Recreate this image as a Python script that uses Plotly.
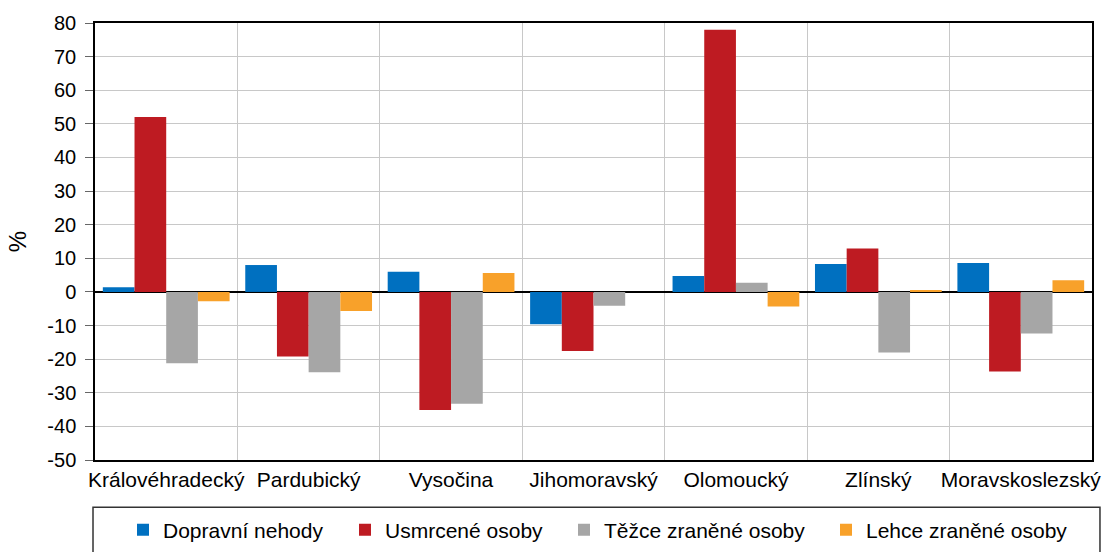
import plotly.graph_objects as go

categories = ["Královéhradecký", "Pardubický", "Vysočina", "Jihomoravský",
              "Olomoucký", "Zlínský", "Moravskoslezský"]
series_names = ["Dopravní nehody", "Usmrcené osoby", "Těžce zraněné osoby", "Lehce zraněné osoby"]
dopravni = [1.4, 8.0, 6.0, -9.6, 4.7, 8.3, 8.6]
usmrcene = [52.0, -19.2, -35.1, -17.6, 78.0, 12.9, -23.7]
tezce = [-21.2, -23.9, -33.3, -4.1, 2.7, -18.0, -12.4]
lehce = [-2.8, -5.7, 5.6, 0.0, -4.3, 0.3, 3.5]
colors = ["#0070C0", "#BE1B22", "#A6A6A6", "#F8A12A"]
y_ticks = list(range(-50, 81, 10))
y_ticktext = [str(v) for v in y_ticks]

W, H = 1102, 552
x = list(range(len(categories)))
boundaries = [i + 0.5 for i in x[:-1]]
legend_ids = ["legend", "legend2", "legend3", "legend4"]
legend_marker_px = [140, 362, 581, 843]

fig = go.Figure()
for name, vals, col, lid in zip(series_names, [dopravni, usmrcene, tezce, lehce], colors, legend_ids):
    fig.add_trace(go.Bar(x=x, y=vals, name=name, legend=lid,
                         marker=dict(color=col, line=dict(width=0))))

font = dict(family="Liberation Sans, Arial, sans-serif", size=20, color="black")
big_font = dict(family="Liberation Sans, Arial, sans-serif", size=21, color="black")

legends = {}
for lid, mpx in zip(legend_ids, legend_marker_px):
    legends[lid] = dict(orientation="h", xref="container", yref="container",
                        x=(mpx - 17) / W, xanchor="left",
                        y=1 - 530 / H, yanchor="middle",
                        font=big_font, bgcolor="rgba(0,0,0,0)", itemwidth=30)

fig.update_layout(
    width=W, height=H,
    margin=dict(l=95, r=10, t=23, b=92, autoexpand=False),
    paper_bgcolor="white", plot_bgcolor="white",
    font=font,
    barmode="group", bargap=0.11, bargroupgap=0,
    showlegend=True,
    xaxis=dict(range=[-0.5, 6.5], tickmode="array", tickvals=x, ticktext=categories,
               tickfont=big_font,
               showgrid=False, zeroline=False, showline=True, mirror=True,
               linecolor="black", linewidth=1.5, ticks="", ticklen=0,
               minor=dict(tick0=0.5, dtick=1, showgrid=True, gridcolor="#c8c8c8",
                          gridwidth=1, ticks="")),
    xaxis2=dict(range=[-0.5, 6.5], overlaying="x", anchor="free", position=50 / 130,
                tickmode="array", tickvals=boundaries, showticklabels=False,
                ticks="outside", ticklen=5, tickwidth=1.5, tickcolor="black",
                showgrid=False, zeroline=False, showline=False),
    yaxis=dict(range=[-50, 80], tickmode="array", tickvals=y_ticks, ticktext=y_ticktext,
               showgrid=True, gridcolor="#c8c8c8", gridwidth=1,
               zeroline=True, zerolinecolor="black", zerolinewidth=2,
               showline=True, mirror=True, linecolor="black", linewidth=1.5,
               ticks="outside", ticklen=8, tickcolor="#666666",
               ticklabelstandoff=5,
               title=dict(text="%", standoff=14)),
    shapes=[dict(type="rect", xref="paper", yref="paper",
                 x0=-0.002, x1=1.008, y0=-0.108, y1=-0.25,
                 line=dict(color="#333333", width=1.5), fillcolor="rgba(0,0,0,0)")],
    **legends,
)
fig.write_html("out.html", config={"displayModeBar": False},
               post_script="document.body.style.margin='0';document.body.style.overflow='hidden';")
